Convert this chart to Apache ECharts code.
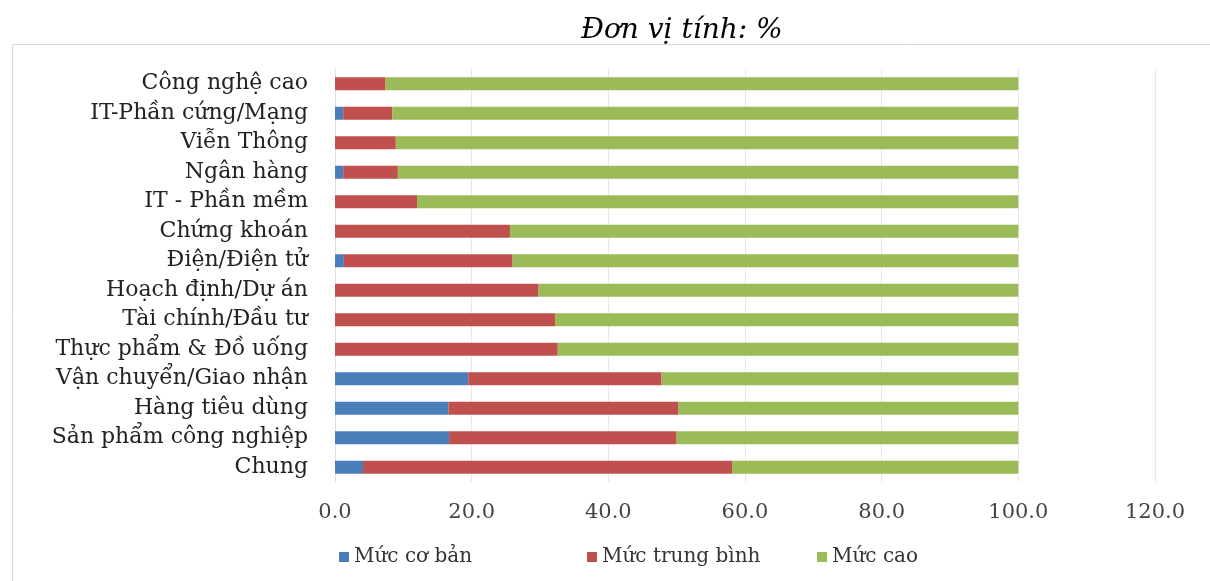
<!DOCTYPE html>
<html><head><meta charset="utf-8">
<script src="https://cdn.jsdelivr.net/npm/echarts@6/dist/echarts.min.js"></script>
<style>html,body{margin:0;padding:0;background:#fff}#c{width:1210px;height:581px}</style>
</head><body><div id="c"></div>
<script>
const categories = ["Chung","Sản phẩm công nghiệp","Hàng tiêu dùng","Vận chuyển/Giao nhận","Thực phẩm & Đồ uống","Tài chính/Đầu tư","Hoạch định/Dự án","Điện/Điện tử","Chứng khoán","IT - Phần mềm","Ngân hàng","Viễn Thông","IT-Phần cứng/Mạng","Công nghệ cao"];
const basic  = [4.1, 16.7, 16.6, 19.5, 0, 0, 0, 1.3, 0, 0, 1.2, 0, 1.2, 0];
const medium = [54.0, 33.3, 33.6, 28.3, 32.6, 32.2, 29.8, 24.7, 25.6, 12.0, 8.0, 8.9, 7.2, 7.4];
const high   = [41.9, 50.0, 49.8, 52.2, 67.4, 67.8, 70.2, 74.0, 74.4, 88.0, 90.8, 91.1, 91.6, 92.6];
const seriesNames = ["Mức cơ bản","Mức trung bình","Mức cao"];
const colors = ["#4a7ebb","#c0504d","#9bbb59"];

const chart = echarts.init(document.getElementById('c'));
const font = "'DejaVu Serif', serif";
const legendLefts = [334, 582, 812];
chart.setOption({
  animation:false,
  textStyle:{fontFamily:font},
  title:{text:"Đơn vị tính: %", left:677, top:12, textAlign:'center',
    textStyle:{fontFamily:font,fontStyle:'italic',fontWeight:'normal',fontSize:28,color:'#000'}},
  graphic:[{type:'rect',shape:{x:12.5,y:44.5,width:1210,height:560},style:{fill:'none',stroke:'#d9d9d9',lineWidth:1},silent:true}],
  legend:seriesNames.map((n,i)=>({bottom:9,left:legendLefts[i],itemWidth:10,itemHeight:10,icon:'rect',
    textStyle:{fontFamily:font,fontSize:20,color:'#333'},data:[n]})),
  grid:{left:335,right:55,top:69,bottom:99,containLabel:false},
  xAxis:{type:'value',min:0,max:120,interval:20,
    axisLabel:{formatter:v=>v.toFixed(1),fontSize:21,color:'#444',fontFamily:font,margin:20},
    splitLine:{lineStyle:{color:'#e8e8e8'}},axisLine:{show:false},axisTick:{show:false}},
  yAxis:{type:'category',data:categories,
    axisLabel:{fontSize:22,color:'#222',fontFamily:font,margin:27},
    axisLine:{lineStyle:{color:'#e0e0e0'}},axisTick:{show:false}},
  series:[basic,medium,high].map((d,i)=>({name:seriesNames[i],type:'bar',stack:'s',data:d,
    barWidth:13,itemStyle:{color:colors[i]}}))
});
</script></body></html>
